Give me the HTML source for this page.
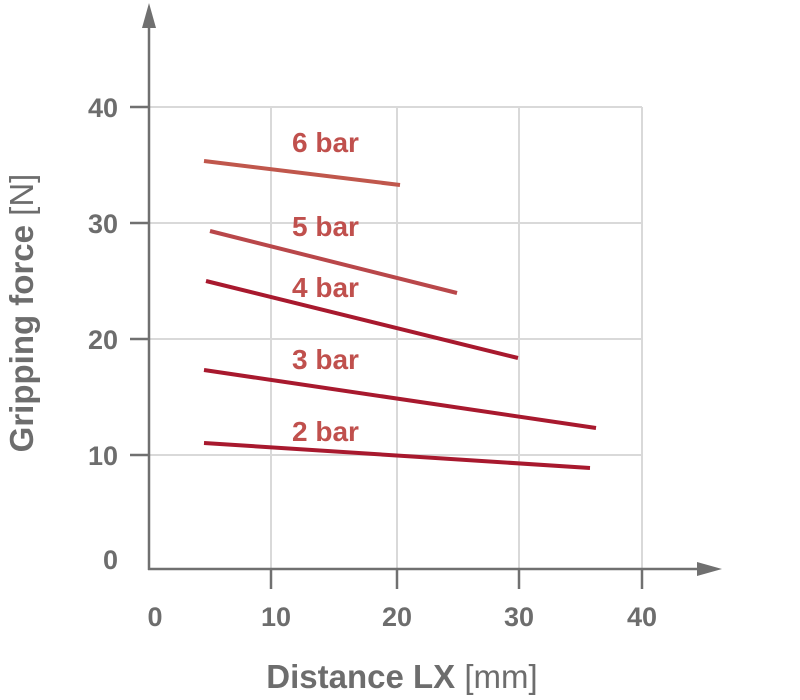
<!DOCTYPE html>
<html><head><meta charset="utf-8"><style>body{margin:0;background:#fff}svg{display:block}</style></head><body>
<svg width="800" height="700" xmlns="http://www.w3.org/2000/svg" font-family="Liberation Sans, sans-serif">
<g stroke="#d9d9d9" stroke-width="2">
<line x1="149" y1="107" x2="642" y2="107"/><line x1="149" y1="223" x2="642" y2="223"/><line x1="149" y1="339" x2="642" y2="339"/><line x1="149" y1="455" x2="642" y2="455"/>
<line x1="271" y1="107" x2="271" y2="569"/><line x1="397" y1="107" x2="397" y2="569"/><line x1="519" y1="107" x2="519" y2="569"/><line x1="642" y1="107" x2="642" y2="569"/>
</g>
<g stroke="#707070" stroke-width="2.5">
<line x1="149" y1="20" x2="149" y2="570"/><line x1="148" y1="569" x2="705" y2="569"/>
<line x1="130" y1="107" x2="149" y2="107"/><line x1="130" y1="223" x2="149" y2="223"/><line x1="130" y1="339" x2="149" y2="339"/><line x1="130" y1="455" x2="149" y2="455"/>
<line x1="271" y1="569" x2="271" y2="589"/><line x1="397" y1="569" x2="397" y2="589"/><line x1="519" y1="569" x2="519" y2="589"/><line x1="642" y1="569" x2="642" y2="589"/>
</g>
<polygon points="149,3 142,28 156,28" fill="#707070"/>
<polygon points="722,569 697,562 697,576" fill="#707070"/>
<g fill="#6d6d6d" font-weight="bold" font-size="27">
<text x="118" y="117" text-anchor="end">40</text><text x="118" y="233" text-anchor="end">30</text><text x="118" y="349" text-anchor="end">20</text><text x="118" y="465" text-anchor="end">10</text><text x="118" y="569" text-anchor="end">0</text>
<text x="155" y="626" text-anchor="middle">0</text><text x="276" y="626" text-anchor="middle">10</text><text x="397" y="626" text-anchor="middle">20</text><text x="519" y="626" text-anchor="middle">30</text><text x="642" y="626" text-anchor="middle">40</text>
<text x="402" y="688" text-anchor="middle" font-size="33">Distance LX <tspan font-weight="normal">[mm]</tspan></text>
<text transform="translate(33,313) rotate(-90)" text-anchor="middle" font-size="33">Gripping force <tspan font-weight="normal">[N]</tspan></text>
</g>
<g stroke-width="4" stroke-linecap="butt">
<line x1="204" y1="161" x2="400" y2="185" stroke="#c0574c"/>
<line x1="210" y1="231" x2="457" y2="293" stroke="#b9474a"/>
<line x1="206" y1="281" x2="518" y2="358" stroke="#a8192e"/>
<line x1="204" y1="370" x2="596" y2="428" stroke="#a8192e"/>
<line x1="204" y1="443" x2="590" y2="468" stroke="#a8192e"/>
</g>
<g fill="#c0504d" font-weight="bold" font-size="28">
<text x="292" y="152">6 bar</text><text x="292" y="236">5 bar</text><text x="292" y="297">4 bar</text><text x="292" y="369">3 bar</text><text x="292" y="441">2 bar</text>
</g>
</svg>
</body></html>
